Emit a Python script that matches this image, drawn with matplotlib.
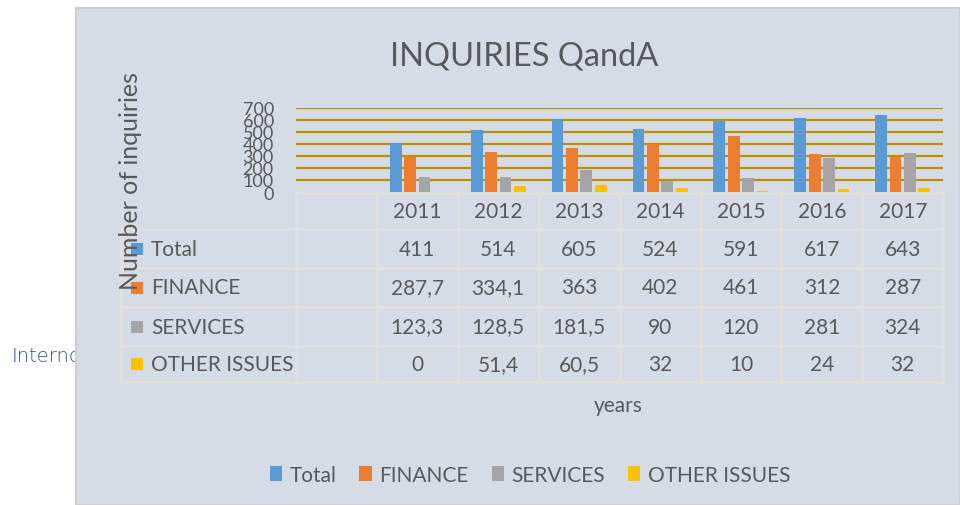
import matplotlib.pyplot as plt
from matplotlib.patches import Rectangle, Patch

plt.rcParams['font.family'] = ['Lato', 'DejaVu Sans']

years = ['2011', '2012', '2013', '2014', '2015', '2016', '2017']
series = ['Total', 'FINANCE', 'SERVICES', 'OTHER ISSUES']
total = [411, 514, 605, 524, 591, 617, 643]
finance = [287.7, 334.1, 363, 402, 461, 312, 287]
services = [123.3, 128.5, 181.5, 90, 120, 281, 324]
other = [0, 51.4, 60.5, 32, 10, 24, 32]
colors = ['#5b9bd5', '#ed7d31', '#a5a5a5', '#ffc000']

values = [total, finance, services, other]
txt = '#595959'
line_c = '#e2e1dd'


def fmt(v):
    if v % 1:
        return f"{v:.1f}".replace('.', ',')
    return str(int(v))


W, H = 960, 506
fig = plt.figure(figsize=(W / 100, H / 100), dpi=100)
fig.patch.set_facecolor('white')

# background layer in pixel coordinates
bg = fig.add_axes([0, 0, 1, 1], zorder=-1)
bg.set_xlim(0, W)
bg.set_ylim(H, 0)
bg.axis('off')
bg.text(12, 357, 'Interno', fontsize=14, color='#2f5597', va='center', ha='left',
        family='DejaVu Sans', fontweight='light', zorder=1)
bg.add_patch(Rectangle((76, 9), W - 76, H - 9, facecolor='#d6dce5',
                       edgecolor='#cfcfcf', lw=1.5, zorder=2))

# title and axis titles
bg.text(524, 56, 'INQUIRIES QandA', fontsize=23.5, color=txt, ha='center', va='center', zorder=3)
bg.text(130, 181, 'Number of inquiries', fontsize=18, color=txt, rotation=90,
        ha='center', va='center', zorder=5)
bg.text(618, 406, 'years', fontsize=15, color=txt, ha='center', va='center', zorder=3)

# data table
x0, cw = 296, 80.9
rows_y = [194, 230, 269, 308, 347, 383]
x_right = x0 + cw * 8
for y in rows_y:
    bg.plot([121 if y != rows_y[0] else x0, x_right], [y, y], color=line_c, lw=1.8, zorder=3)
bg.plot([121, 121], [rows_y[1], rows_y[-1]], color=line_c, lw=1.8, zorder=3)
for k in range(9):
    xv = x0 + cw * k
    bg.plot([xv, xv], [rows_y[0], rows_y[-1]], color=line_c, lw=1.8, zorder=3)

for j, yr in enumerate(years):
    cx = x0 + cw * (j + 1.5)
    bg.text(cx, 212, yr, fontsize=15, color=txt, ha='center', va='center', zorder=4)
    for i, vals in enumerate(values):
        cy = (rows_y[i + 1] + rows_y[i + 2]) / 2
        bg.text(cx, cy, fmt(vals[j]), fontsize=15, color=txt, ha='center', va='center', zorder=4)

for i, name in enumerate(series):
    cy = (rows_y[i + 1] + rows_y[i + 2]) / 2
    bg.add_patch(Rectangle((131, cy - 6), 12, 12, facecolor=colors[i], edgecolor='none', zorder=4))
    bg.text(151, cy, name, fontsize=15, color=txt, ha='left', va='center', zorder=4)

# bar chart
ax = fig.add_axes([x0 / W, 1 - 193 / H, cw * 8 / W, (193 - 108.7) / H], zorder=1)
ax.patch.set_visible(False)
n = len(years)
bw, step = 0.145, 0.178
for i, vals in enumerate(values):
    xs = [j + (i - 1.5) * step for j in range(n)]
    ax.bar(xs, vals, width=bw, color=colors[i], zorder=3)
ax.set_xlim(-1.5, 6.5)
ax.set_ylim(0, 700)
ax.set_yticks(range(0, 800, 100))
ax.tick_params(axis='y', length=0, pad=16, labelsize=13, labelcolor=txt)
ax.set_xticks([])
for s in ax.spines.values():
    s.set_visible(False)
ax.yaxis.grid(True, color='#bf9000', lw=1.6, zorder=1)
ax.get_ygridlines()[0].set_visible(False)

# legend
handles = [Patch(facecolor=c, edgecolor='none') for c in colors]
fig.legend(handles, series, loc='center', bbox_to_anchor=(530 / W, 1 - 476 / H),
           ncol=4, frameon=False, fontsize=15, labelcolor=txt,
           handlelength=0.6, handleheight=0.7, handletextpad=0.35, columnspacing=1.1)

fig.savefig('out.png', dpi=100)
